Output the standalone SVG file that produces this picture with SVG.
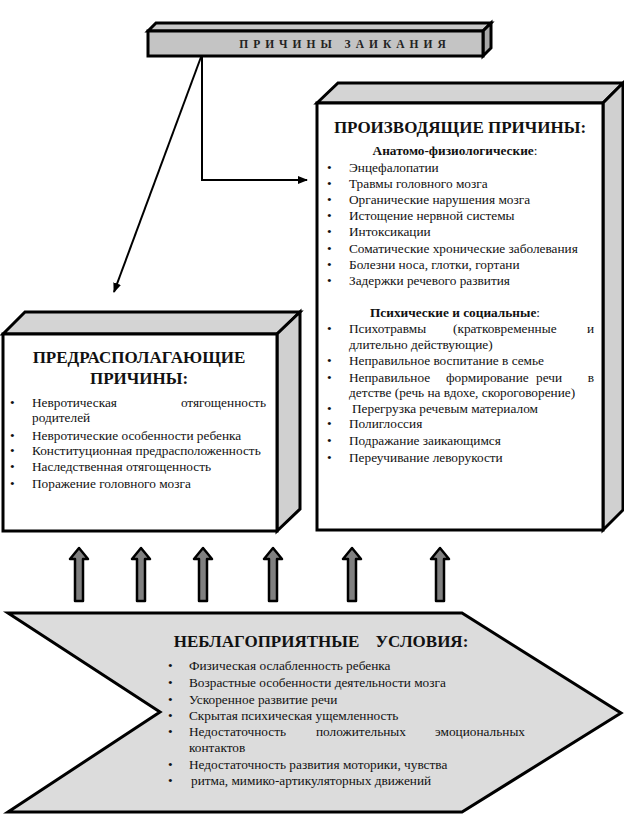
<svg xmlns="http://www.w3.org/2000/svg" width="624" height="839" viewBox="0 0 624 839">
<style>
text{font-family:'Liberation Serif','DejaVu Serif','Times New Roman',serif}
.b{stroke:#000;stroke-width:3;stroke-linejoin:miter}
.t{font-size:13.3px;fill:#111}
.h{font-weight:bold;font-size:17px;fill:#111}
.s{font-weight:bold;font-size:13.3px;fill:#111}
.ln{stroke:#000;stroke-width:2;fill:none}
.up{fill:#808080;stroke:#000;stroke-width:2.5;stroke-linejoin:round}
</style>
<defs>
<marker id="ah" markerWidth="10" markerHeight="8" refX="9" refY="4" orient="auto" markerUnits="userSpaceOnUse">
<path d="M0,0 L10,4 L0,8 Z" fill="#000"/>
</marker>
<path id="upar" d="M-4,0 L-4,-42 L-9,-42 L0,-53 L9,-42 L4,-42 L4,0 Z"/>
</defs>
<rect width="624" height="839" fill="#fff"/>

<g id="connectors">
<line class="ln" x1="201" y1="57" x2="114" y2="292" marker-end="url(#ah)"/>
<polyline class="ln" points="202,57 202,180 307,180" marker-end="url(#ah)"/>
</g>

<g id="title">
<polygon class="b" fill="#c8c8c8" points="148,31 156,23 491,23 483,31"/>
<polygon class="b" fill="#a8a8a8" points="483,31 491,23 491,48 483,56"/>
<rect class="b" x="148" y="31" width="335" height="25" fill="#c4c4c4"/>
<text x="345" y="48" text-anchor="middle" font-weight="bold" font-size="11.5" letter-spacing="5" fill="#222">ПРИЧИНЫ ЗАИКАНИЯ</text>
</g>

<g id="producing">
<polygon class="b" fill="#d4d4d4" points="317,103 338,83 623,83 603,103"/>
<polygon class="b" fill="#d0d0d0" points="603,103 623,83 623,510 603,530"/>
<rect class="b" x="317" y="103" width="286" height="427" fill="#fff"/>
<text class="h" x="460" y="133" text-anchor="middle">ПРОИЗВОДЯЩИЕ  ПРИЧИНЫ:</text>
<text class="s" x="455" y="155" text-anchor="middle">Анатомо-физиологические<tspan font-weight="normal">:</tspan></text>
<g class="t">
<text x="327" y="172">•</text><text x="349" y="172">Энцефалопатии</text>
<text x="327" y="188">•</text><text x="349" y="188">Травмы головного мозга</text>
<text x="327" y="204">•</text><text x="349" y="204">Органические нарушения мозга</text>
<text x="327" y="220">•</text><text x="349" y="220">Истощение нервной системы</text>
<text x="327" y="236">•</text><text x="349" y="236">Интоксикации</text>
<text x="327" y="253">•</text><text x="349" y="253">Соматические хронические заболевания</text>
<text x="327" y="269">•</text><text x="349" y="269">Болезни носа, глотки, гортани</text>
<text x="327" y="285">•</text><text x="349" y="285">Задержки речевого развития</text>
</g>
<text class="s" x="455" y="317" text-anchor="middle">Психические и социальные<tspan font-weight="normal">:</tspan></text>
<g class="t">
<text x="327" y="333">•</text><text x="349" y="333">Психотравмы</text><text x="453" y="333">(кратковременные</text><text x="594" y="333" text-anchor="end">и</text>
<text x="349" y="349">длительно действующие)</text>
<text x="327" y="365">•</text><text x="349" y="365">Неправильное воспитание в семье</text>
<text x="327" y="382">•</text><text x="349" y="382">Неправильное</text><text x="446" y="382">формирование</text><text x="536" y="382">речи</text><text x="594" y="382" text-anchor="end">в</text>
<text x="349" y="397">детстве (речь на вдохе, скороговорение)</text>
<text x="327" y="413">•</text><text x="352" y="413">Перегрузка речевым материалом</text>
<text x="327" y="428">•</text><text x="349" y="428">Полиглоссия</text>
<text x="327" y="445">•</text><text x="349" y="445">Подражание заикающимся</text>
<text x="327" y="462">•</text><text x="349" y="462">Переучивание леворукости</text>
</g>
</g>

<g id="predisposing">
<polygon class="b" fill="#d4d4d4" points="3,334 25,312 300,312 277,334"/>
<polygon class="b" fill="#d0d0d0" points="277,334 300,312 300,509 277,531"/>
<rect class="b" x="3" y="334" width="274" height="197" fill="#fff"/>
<text class="h" x="139" y="363" text-anchor="middle">ПРЕДРАСПОЛАГАЮЩИЕ</text>
<text class="h" x="139" y="384" text-anchor="middle">ПРИЧИНЫ:</text>
<g class="t">
<text x="10" y="407">•</text><text x="32" y="407">Невротическая</text><text x="266" y="407" text-anchor="end">отягощенность</text>
<text x="32" y="422">родителей</text>
<text x="10" y="440">•</text><text x="32" y="440">Невротические особенности ребенка</text>
<text x="10" y="455">•</text><text x="32" y="455">Конституционная предрасположенность</text>
<text x="10" y="471">•</text><text x="32" y="471">Наследственная отягощенность</text>
<text x="10" y="488">•</text><text x="32" y="488">Поражение головного мозга</text>
</g>
</g>

<g id="arrows">
<use href="#upar" class="up" x="79" y="601"/>
<use href="#upar" class="up" x="141" y="601"/>
<use href="#upar" class="up" x="203" y="601"/>
<use href="#upar" class="up" x="273" y="601"/>
<use href="#upar" class="up" x="352" y="601"/>
<use href="#upar" class="up" x="440" y="601"/>
</g>

<g id="conditions">
<polygon class="b" fill="#dcdcdc" points="8,613 462,613 621,713 462,812 8,812 160,712"/>
<text class="h" x="321" y="647" text-anchor="middle">НЕБЛАГОПРИЯТНЫЕ <tspan dx="12">УСЛОВИЯ:</tspan></text>
<g class="t">
<text x="168" y="670">•</text><text x="189" y="670">Физическая ослабленность ребенка</text>
<text x="168" y="687">•</text><text x="189" y="687">Возрастные особенности деятельности мозга</text>
<text x="168" y="704">•</text><text x="189" y="704">Ускоренное развитие речи</text>
<text x="168" y="720">•</text><text x="189" y="720">Скрытая психическая ущемленность</text>
<text x="168" y="736">•</text><text x="189" y="736">Недостаточность</text><text x="316" y="736">положительных</text><text x="525" y="736" text-anchor="end">эмоциональных</text>
<text x="189" y="752">контактов</text>
<text x="168" y="769">•</text><text x="189" y="769">Недостаточность развития моторики, чувства</text>
<text x="168" y="785">•</text><text x="191" y="785">ритма, мимико-артикуляторных движений</text>
</g>
</g>
</svg>
